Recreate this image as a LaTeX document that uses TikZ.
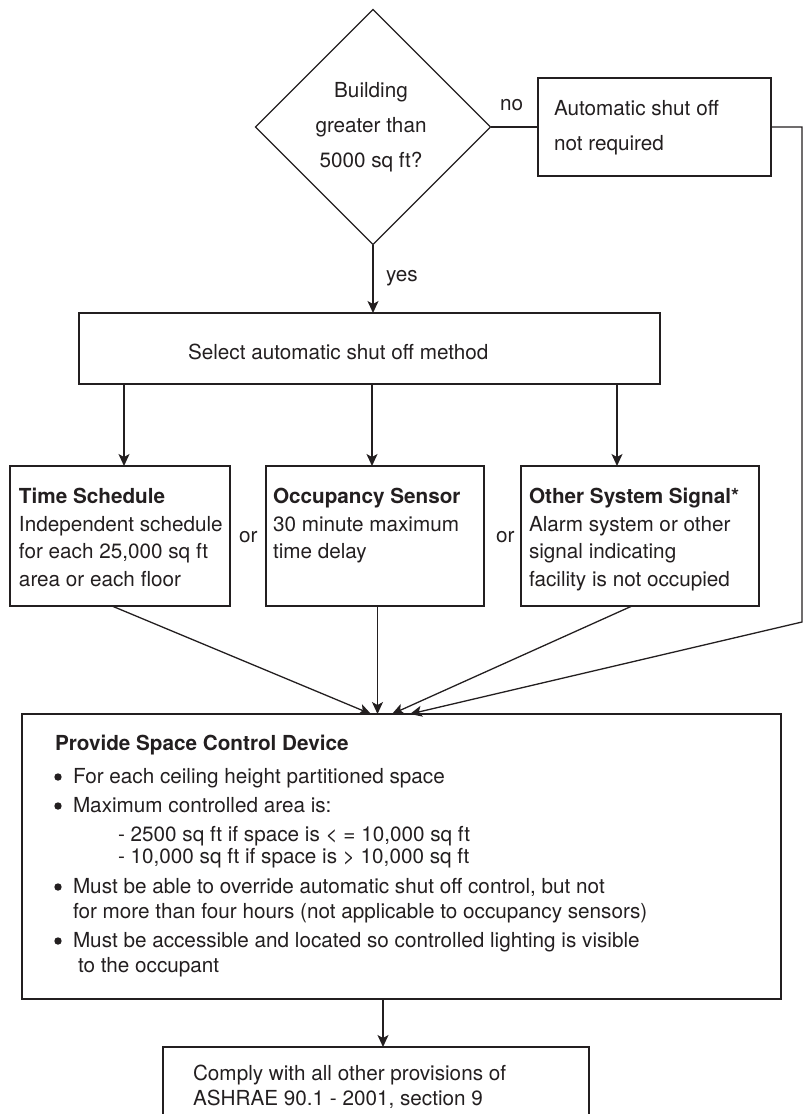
\documentclass[tikz,border=0pt]{standalone}
\usepackage{fontspec}
\setmainfont{TeX Gyre Heros}
\usetikzlibrary{shapes.geometric,arrows.meta}
\definecolor{ink}{HTML}{231F20}
\begin{document}
\begin{tikzpicture}[x=1pt,y=-1pt,
  every node/.style={font=\fontsize{20.7}{24}\selectfont, text=ink, inner sep=0pt, outer sep=0pt},
  bx/.style={draw=ink, line width=1.3pt, rectangle, anchor=north west},
  decision/.style={draw=ink, line width=1.3pt, diamond, minimum width=235pt, minimum height=235pt},
  lbl/.style={anchor=base west},
  clbl/.style={anchor=base},
  hd/.style={anchor=base west, font=\fontsize{20.7}{24}\selectfont\bfseries},
  conn/.style={draw=ink, line width=1.3pt},
  arr/.style={conn, -{Stealth[length=12pt,width=11pt,inset=3pt]}},
  bulletdot/.style={circle, fill=ink, minimum size=7.4pt},
]
\useasboundingbox (0,0) rectangle (807,1114);
\clip (0,0) rectangle (807,1114);

% shapes
\node[decision] (dia) at (373,127) {};
\node[bx, minimum width=233pt, minimum height=98pt] (nr) at (538,78) {};
\node[bx, minimum width=581pt, minimum height=71pt] (sel) at (79,313) {};
\node[bx, minimum width=220pt, minimum height=140pt] (b1) at (10,466) {};
\node[bx, minimum width=218pt, minimum height=140pt] (b2) at (266,466) {};
\node[bx, minimum width=238pt, minimum height=140pt] (b3) at (521,466) {};
\node[bx, minimum width=759pt, minimum height=285pt] (big) at (22,714) {};
\node[bx, minimum width=426pt, minimum height=120pt] (fin) at (163,1047) {};
\coordinate (c2) at (802,622);

% texts
\node[clbl] (q1) at (371,97) {Building};
\node[clbl] (q2) at (371,132) {greater than};
\node[clbl] (q3) at (371,167) {5000 sq ft?};
\node[lbl] (no) at (500,110) {no};
\node[lbl] (yes) at (386,281) {yes};
\node[lbl] (nr1) at (554,115) {Automatic shut off};
\node[lbl] (nr2) at (554,150) {not required};
\node[lbl] (selt) at (188,359) {Select automatic shut off method};

\node[hd] (b1h) at (19,503) {Time Schedule};
\node[lbl] (b1a) at (19,531) {Independent schedule};
\node[lbl] (b1b) at (19,558) {for each 25,000 sq ft};
\node[lbl] (b1c) at (19,586) {area or each floor};

\node[hd] (b2h) at (273,503) {Occupancy Sensor};
\node[lbl] (b2a) at (273,531) {30 minute maximum};
\node[lbl] (b2b) at (273,558) {time delay};

\node[hd] (b3h) at (529,503) {Other System Signal*};
\node[lbl] (b3a) at (529,531) {Alarm system or other};
\node[lbl] (b3b) at (529,558) {signal indicating};
\node[lbl] (b3c) at (529,586) {facility is not occupied};

\node[lbl] (or1) at (239,542) {or};
\node[lbl] (or2) at (496,542) {or};

\node[hd] (bigh) at (55,750) {Provide Space Control Device};
\node[bulletdot] (d1) at (58,777) {};
\node[lbl] (l1) at (73,783) {For each ceiling height partitioned space};
\node[bulletdot] (d2) at (58,806) {};
\node[lbl] (l2) at (73,812) {Maximum controlled area is:};
\node[lbl] (l3) at (118,841) {- 2500 sq ft if space is < = 10,000 sq ft};
\node[lbl] (l4) at (118,863) {- 10,000 sq ft if space is > 10,000 sq ft};
\node[bulletdot] (d3) at (58,887) {};
\node[lbl] (l5) at (73,893) {Must be able to override automatic shut off control, but not};
\node[lbl] (l6) at (73,918) {for more than four hours (not applicable to occupancy sensors)};
\node[bulletdot] (d4) at (58,941) {};
\node[lbl] (l7) at (73,947) {Must be accessible and located so controlled lighting is visible};
\node[lbl] (l8) at (78,972) {to the occupant};

\node[lbl] (f1) at (193,1080) {Comply with all other provisions of};
\node[lbl] (f2) at (193,1105) {ASHRAE 90.1 - 2001, section 9};

% connectors
\draw[arr] (dia.south) -- (dia.south |- sel.north);
\draw[conn] (dia.east) -- (nr.west);
\draw[arr] ([xshift=4pt]b1.north |- sel.south) -- ([xshift=4pt]b1.north);
\draw[arr] ([xshift=-3pt]b2.north |- sel.south) -- ([xshift=-3pt]b2.north);
\draw[arr] ([xshift=-23pt]b3.north |- sel.south) -- ([xshift=-23pt]b3.north);
\draw[arr] ([xshift=-8pt]b1.south) -- ([xshift=-30.5pt]big.north);
\draw[arr] ([xshift=2.5pt]b2.south) -- ([xshift=-24pt]big.north);
\draw[arr] ([xshift=-8pt]b3.south) -- ([xshift=-9.5pt]big.north);
\draw[arr] (nr.east) -| (c2) -- ([xshift=8.5pt]big.north);
\draw[arr] ([xshift=-18.5pt]big.south) -- ([xshift=-18.5pt]big.south |- fin.north);
\end{tikzpicture}
\end{document}
